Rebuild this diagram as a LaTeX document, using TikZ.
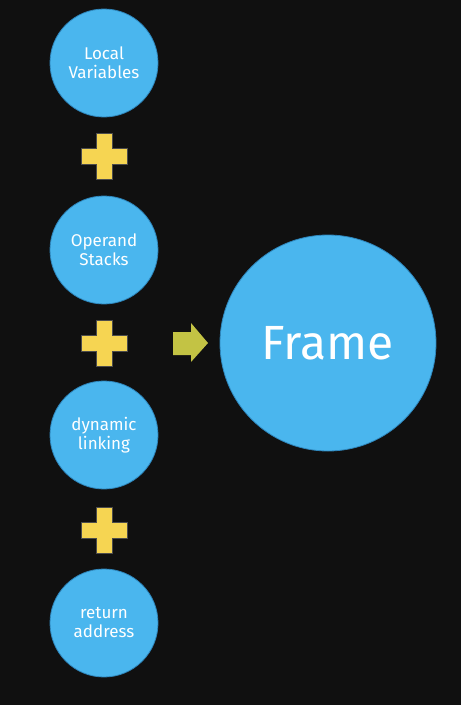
\documentclass[tikz,border=0pt]{standalone}
\usepackage{fontspec}
\setmainfont{Fira Sans}
\usepackage{tikz}
\usetikzlibrary{positioning}
\definecolor{boardblack}{HTML}{101010}
\definecolor{bubbleblue}{HTML}{4AB6EE}
\definecolor{bubbleedge}{HTML}{2E86BC}
\definecolor{plusyellow}{HTML}{F6D552}
\definecolor{arrowolive}{HTML}{C3C344}

\begin{document}
\begin{tikzpicture}[x=1pt, y=-1pt,
  part/.style={circle, draw=bubbleedge, line width=0.8pt, fill=bubbleblue,
               minimum size=108pt, inner sep=0pt, align=center, text=white,
               font=\fontsize{17}{19}\selectfont},
  whole/.style={circle, draw=bubbleedge, line width=0.8pt, fill=bubbleblue,
               minimum size=216pt, inner sep=0pt, text=white,
               font=\fontsize{48}{52}\selectfont},
  plus/.style={fill=plusyellow, draw=black!70, line width=0.4pt},
]
%% --- Background ---
\fill[boardblack] (0,0) rectangle (461,705);
\useasboundingbox (0,0) rectangle (461,705);

%% --- Parts ---
\node[part] (locals) at (104, 63) {Local\\Variables};
\node[part] (operand) at (104, 250) {Operand\\Stacks};
\node[part] (linking) at (104, 435) {dynamic\\linking};
\node[part] (retaddr) at (104, 623) {return\\address};

%% --- Plus signs ---
\foreach \y in {156, 343, 530}
  \draw[plus] (96,\y-23) -- (112,\y-23) -- (112,\y-8) -- (127,\y-8) -- (127,\y+8)
    -- (112,\y+8) -- (112,\y+23) -- (96,\y+23) -- (96,\y+8) -- (81,\y+8)
    -- (81,\y-8) -- (96,\y-8) -- cycle;

%% --- Arrow ---
\fill[arrowolive] (173,332) -- (191,332) -- (191,323) -- (208,343) -- (191,362)
  -- (191,355) -- (173,355) -- cycle;

%% --- Result ---
\node[whole] (frame) at (328, 343) {Frame};
\end{tikzpicture}
\end{document}
